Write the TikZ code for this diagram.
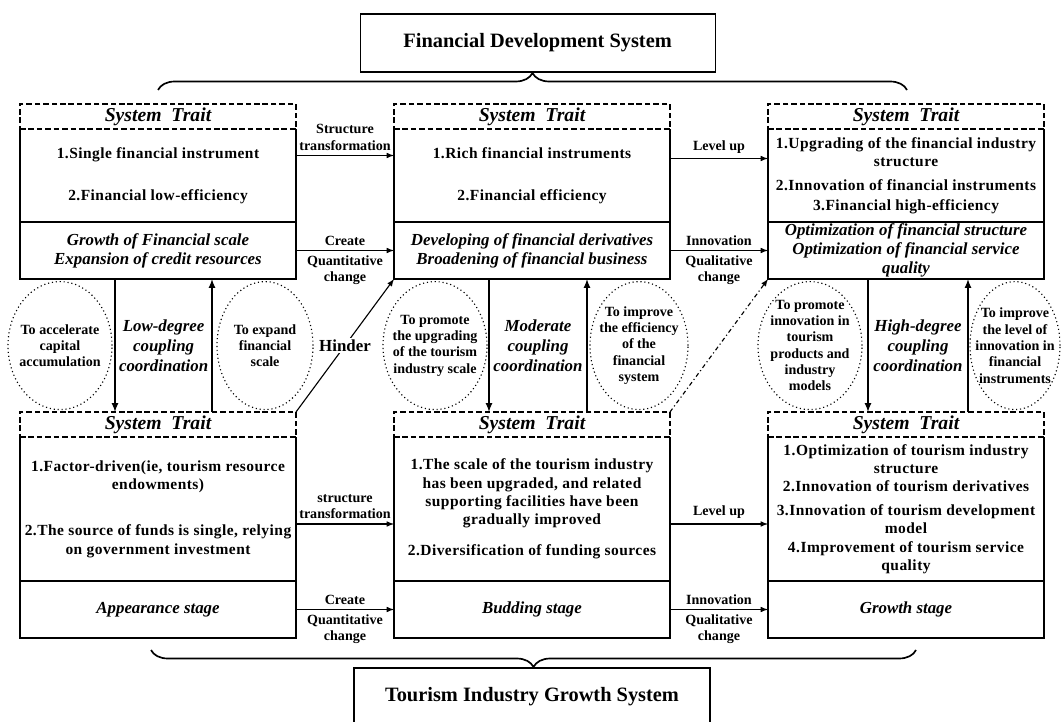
\documentclass[tikz,border=0pt]{standalone}
\usepackage{fontspec}
\setmainfont{Liberation Serif}
\usepackage{tikz}
\usetikzlibrary{shapes,arrows,positioning,decorations.pathreplacing}
\tikzstyle{sysbox}=[rectangle, draw, thick, align=center, minimum width=8.875cm, minimum height=1.45cm, font=\bfseries\fontsize{14.5}{16}\selectfont]
\tikzstyle{headbox}=[rectangle, draw, dash pattern=on 4pt off 2pt, thick, minimum width=6.9cm, minimum height=0.625cm, inner sep=0pt, outer sep=0pt, font=\bfseries\itshape\fontsize{14}{15}\selectfont]
\tikzstyle{bodybox}=[rectangle, align=center, minimum width=6.9cm, inner sep=0pt, outer sep=0pt, font=\bfseries\fontsize{11}{13}\selectfont\addfontfeature{LetterSpace=3}]
\tikzstyle{stagebox}=[rectangle, draw, thick, align=center, minimum width=6.9cm, minimum height=1.425cm, inner sep=0pt, outer sep=0pt, font=\bfseries\itshape\fontsize{12}{13.5}\selectfont]
\tikzstyle{bubbletext}=[align=center, inner sep=0pt, font=\bfseries\fontsize{10}{11.6}\selectfont]
\tikzstyle{couple}=[align=center, font=\bfseries\itshape\fontsize{12}{14}\selectfont]
\tikzstyle{lbl}=[align=center, font=\bfseries\fontsize{10}{11.5}\selectfont]
\newcommand{\traitbox}[6]{
 \node[headbox, anchor=north] (#1-h) at (#2,#3) {System~~Trait};
 \node[bodybox, minimum height=#4, below=0mm of #1-h] (#1-b) {#5};
 \draw[thick] (#1-b.north west) -- (#1-b.south west) -- (#1-b.south east) -- (#1-b.north east);
 \node[stagebox, below=0mm of #1-b] (#1-s) {#6};}
\newcommand{\bubble}[5]{
 \node[bubbletext] (#1) at (#2,#3) {#5};
 \draw[dotted, thick] (#1) ellipse (#4 and 1.6);}

\begin{document}
\begin{tikzpicture}[>=latex]
\useasboundingbox (0,0) rectangle (26.525,-18.05);

\node[sysbox] (fin) at (13.44,-1.075) {Financial Development System};
\node[sysbox, minimum width=8.9cm] (tour) at (13.3,-17.425) {Tourism Industry Growth System};

\traitbox{u1}{3.95}{-2.6}{2.325cm}{1.Single financial instrument\\[17pt]2.Financial low-efficiency}{Growth of Financial scale\\Expansion of credit resources}
\traitbox{u2}{13.3}{-2.6}{2.325cm}{1.Rich financial instruments\\[17pt]2.Financial efficiency}{Developing of financial derivatives\\Broadening of financial business}
\traitbox{u3}{22.65}{-2.6}{2.325cm}{1.Upgrading of the financial industry\\structure\\[4pt]2.Innovation of financial instruments\\[1pt]3.Financial high-efficiency}{Optimization of financial structure\\Optimization of financial service\\quality}
\traitbox{l1}{3.95}{-10.3}{3.6cm}{1.Factor-driven(ie, tourism resource\\endowments)\\[20pt]2.The source of funds is single, relying\\on government investment}{Appearance stage}
\traitbox{l2}{13.3}{-10.3}{3.6cm}{1.The scale of the tourism industry\\has been upgraded, and related\\supporting facilities have been\\gradually improved\\[9pt]2.Diversification of funding sources}{Budding stage}
\traitbox{l3}{22.65}{-10.3}{3.6cm}{1.Optimization of tourism industry\\structure\\2.Innovation of tourism derivatives\\[4pt]3.Innovation of tourism development\\model\\4.Improvement of tourism service\\quality}{Growth stage}

% braces
\coordinate (ta) at (3.95,-2.25);
\coordinate (tb) at (22.675,-2.25);
\coordinate (ba) at (22.9,-16.25);
\coordinate (bb) at (3.775,-16.25);
\draw[very thick, decorate, decoration={brace, amplitude=0.425cm}] (ta) -- (tb);
\draw[very thick, decorate, decoration={brace, amplitude=0.425cm}] (ba) -- (bb);

\bubble{e1}{1.5}{-8.64}{1.3}{To accelerate\\capital\\accumulation}
\bubble{e2}{6.625}{-8.64}{1.2}{To expand\\financial\\scale}
\bubble{e3}{10.875}{-8.64}{1.3}{To promote\\the upgrading\\of the tourism\\industry scale}
\bubble{e4}{15.975}{-8.64}{1.225}{To improve\\the efficiency\\of the\\financial\\system}
\bubble{e5}{20.25}{-8.64}{1.3}{To promote\\innovation in\\tourism\\products and\\industry\\models}
\bubble{e6}{25.375}{-8.64}{1.125}{To improve\\the level of\\innovation in\\financial\\instruments}

\node[couple] (c1) at (4.09,-8.64) {Low-degree\\coupling\\coordination};
\node[couple] (c2) at (13.45,-8.64) {Moderate\\coupling\\coordination};
\node[couple] (c3) at (22.95,-8.64) {High-degree\\coupling\\coordination};

\draw[->,thick] ([yshift=0.5cm]u1-b.east) -- node[above,lbl] {Structure\\transformation} ([yshift=0.5cm]u2-b.west);
\draw[->,thick] (u1-s.east) -- node[above,lbl] {Create} node[below,lbl] {Quantitative\\change} (u2-s.west);
\draw[->,thick] ([yshift=0.425cm]u2-b.east) -- node[above,lbl] {Level up} ([yshift=0.425cm]u3-b.west);
\draw[->,thick] (u2-s.east) -- node[above,lbl] {Innovation} node[below,lbl] {Qualitative\\change} (u3-s.west);
\draw[->,thick] ([yshift=-0.375cm]l1-b.east) -- node[above,lbl] {structure\\transformation} ([yshift=-0.375cm]l2-b.west);
\draw[->,thick] (l1-s.east) -- node[above,lbl] {Create} node[below,lbl] {Quantitative\\change} (l2-s.west);
\draw[->,thick] ([yshift=-0.375cm]l2-b.east) -- node[above,lbl] {Level up} ([yshift=-0.375cm]l3-b.west);
\draw[->,thick] (l2-s.east) -- node[above,lbl] {Innovation} node[below,lbl] {Qualitative\\change} (l3-s.west);

\draw[->,very thick] ([xshift=-1.075cm]u1-s.south) -- ([xshift=-1.075cm]l1-h.north);
\draw[->,very thick] ([xshift=1.35cm]l1-h.north) -- ([xshift=1.35cm]u1-s.south);
\draw[->,very thick] ([xshift=-1.075cm]u2-s.south) -- ([xshift=-1.075cm]l2-h.north);
\draw[->,very thick] ([xshift=1.375cm]l2-h.north) -- ([xshift=1.375cm]u2-s.south);
\draw[->,very thick] ([xshift=-0.95cm]u3-s.south) -- ([xshift=-0.95cm]l3-h.north);
\draw[->,very thick] ([xshift=1.55cm]l3-h.north) -- ([xshift=1.55cm]u3-s.south);

\draw[->,thick] (l1-h.north east) -- node[fill=white, inner sep=1pt, font=\bfseries\fontsize{12}{13}\selectfont] {Hinder} (u2-s.south west);
\draw[->,thick,dash dot] (l2-h.north east) -- (u3-s.south west);

\end{tikzpicture}
\end{document}
